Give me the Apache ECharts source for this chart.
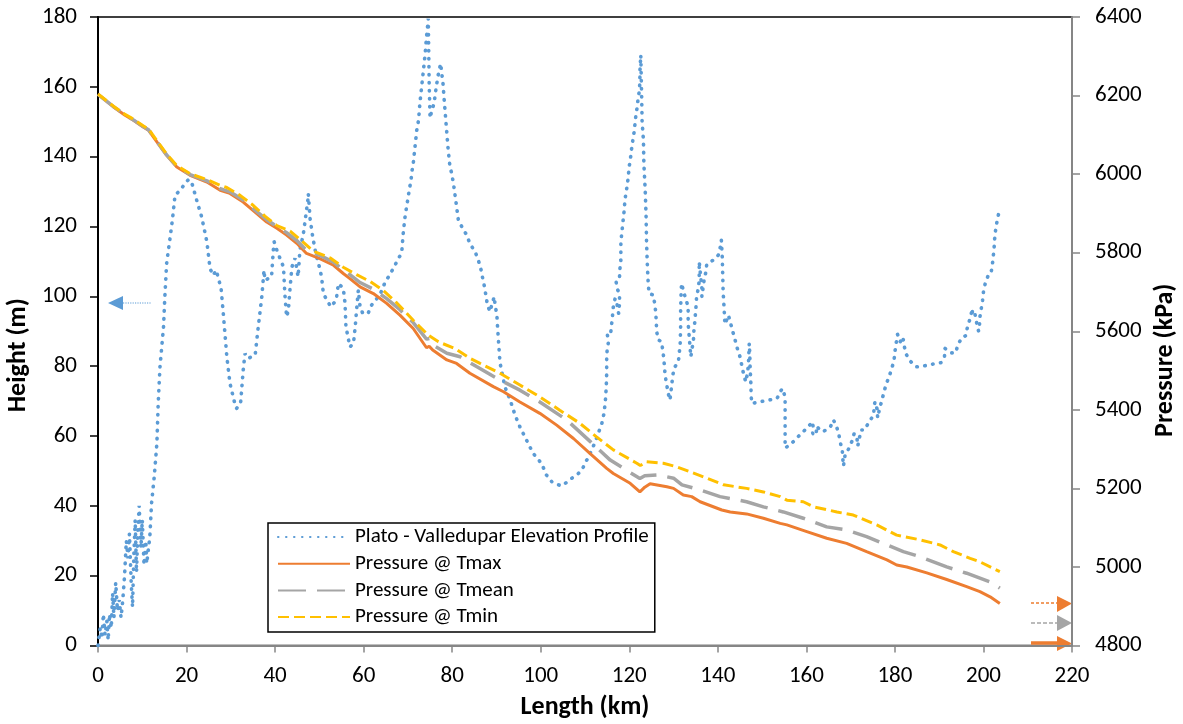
<!DOCTYPE html>
<html>
<head>
<meta charset="utf-8">
<script src="https://cdn.jsdelivr.net/npm/echarts@6/dist/echarts.min.js"></script>
<style>
html,body{margin:0;padding:0;background:#fff;}
#chart{width:1183px;height:724px;}
</style>
</head>
<body>
<div id="chart"></div>
<script>
// ---- Data ----
const seriesNames = ['Plato - Valledupar Elevation Profile','Pressure @ Tmax','Pressure @ Tmean','Pressure @ Tmin'];
const xTicks = [0,20,40,60,80,100,120,140,160,180,200,220];
const heightTicks = [0,20,40,60,80,100,120,140,160,180];
const pressureTicks = [4800,5000,5200,5400,5600,5800,6000,6200,6400];

// Elevation profile [km, m]
const elevation = [
[0,0],[0.5,5],[0.9,2],[1.2,9],[1.6,3],[2.0,7],[2.3,1.5],[2.6,9],[3.0,5],[3.3,15],[3.6,8],[4.0,18],[4.4,10],[4.8,13],[5.2,8],[5.6,13],[6.0,20],[6.4,30],[6.8,25],[7.1,32],[7.5,18],[7.8,11],[8.1,26],[8.4,36],[8.7,21],[9.0,33],[9.3,40],[9.7,28],[10.0,36],[10.4,23],[10.8,30],[11.0,23.5],
[11.7,31],[12.1,40.8],[12.7,48.3],[13.3,57.9],[13.6,69.3],[14.0,79.8],[14.8,91.3],[15.1,99.9],[15.5,109.4],[16.3,117],[16.8,121.8],[17.4,129],[18.7,130.5],[19.7,132.5],[20.5,133.5],[21.3,132],[22.3,127.5],[23.4,122.8],[24.6,115.6],[25.3,108],[26.0,106],[26.7,107.5],[27.8,102.3],[28.3,95.1],[29.1,82.7],[29.8,75.1],[30.9,69.3],[31.3,67.9],[32.2,69.3],[32.8,78.9],[33.2,83.6],[33.9,82.2],[35.5,83.2],[36.2,91.3],[37.0,99.9],[37.5,107.5],[37.7,104.6],[39.2,105.6],[39.6,113.2],[39.8,115.6],[40.4,113.2],[41.1,110.9],[41.9,108.4],[42.2,100.8],[42.6,94.1],[43.0,96],[43.4,102.7],[43.8,108.4],[44.5,110.9],[45.2,105.6],[45.6,113.2],[46.4,118],[46.9,122.8],[47.4,127.5],[47.5,129.4],[47.9,122.3],[48.5,117],[49.2,112.3],[50.0,108.4],[50.5,105.6],[50.9,100.8],[51.7,98.9],[52.6,97],[53.8,98.9],[54.3,103.7],[55.4,102.3],[55.8,98],[56.0,91.3],[56.6,87.5],[56.9,85.5],[57.7,86.5],[58.1,91.3],[58.4,96],[58.8,101.8],[59.2,97],[59.8,95.1],[61.0,95.1],[61.8,97.5],[63.7,100.5],[64.8,103.9],[65.8,106],[66.7,108],[67.6,110.2],[68.6,112.5],[68.9,117.5],[69.3,122.3],[69.7,125.6],[70.3,130.4],[70.7,133.3],[70.9,135.7],[71.2,138],[71.6,142.8],[72.0,147.6],[72.4,150.4],[72.7,155.2],[73.1,160],[73.5,164.7],[73.9,169.5],[74.2,174.3],[74.5,178.1],[74.6,179.5],[74.7,170.5],[74.8,161],[74.9,156.2],[75.0,151],[75.4,153.3],[75.9,155.2],[76.4,160],[76.9,163.8],[77.4,166.7],[77.6,164.3],[77.9,161.4],[78.2,156.2],[78.5,151.4],[78.8,146.6],[79.1,141.9],[79.5,137.1],[79.9,135.2],[80.4,131.3],[80.9,126.6],[81.4,121.8],[82.4,119.4],[83.3,117.5],[84.0,115.1],[85.2,112.7],[85.9,110.4],[86.5,107.7],[86.9,105.1],[87.3,102.7],[87.6,100.4],[87.9,98],[88.5,95.6],[89.5,99.9],[89.7,97.5],[90.1,94.6],[90.2,92.2],[90.4,88.4],[90.6,84.6],[90.8,81],[91.9,74.1],[93.1,70.3],[94.2,66],[95.3,62.6],[96.8,58.8],[98.3,55],[99.6,53.1],[100.5,51.2],[101.3,48.8],[102.5,46.9],[103.6,46.2],[104.7,45.7],[105.5,46.4],[107.0,47.9],[108.1,48.8],[109.3,50.2],[110.0,52.2],[110.8,54],[111.5,56],[112.3,58.3],[113.0,60.8],[113.8,63.6],[114.3,66.5],[114.6,70],[114.8,74],[114.9,78],[114.9,82.2],[115.0,84.6],[115.3,87],[115.0,89.4],[115.8,89.4],[116.0,91.8],[116.2,94.3],[116.4,97],[116.8,99.4],[117.2,98],[117.6,95.1],[117.8,98],[117.8,100.8],[117.2,102.3],[117.0,104.6],[117.8,105.6],[117.9,108],[118.1,110.4],[118.1,113.2],[118.1,115.6],[118.3,118],[118.5,120.4],[118.7,122.8],[118.9,125.2],[119.0,127.5],[119.3,129.9],[119.6,132.3],[119.8,134.7],[120.0,137.3],[120.3,139.8],[120.5,142],[120.8,144.7],[121.1,147.1],[121.3,149.5],[121.5,151.9],[121.8,154.3],[122.0,156.7],[122.3,159],[122.4,161.9],[122.4,164.3],[122.5,166.7],[122.6,169.1],[122.8,157.1],[122.9,150],[123.2,144.7],[123.3,137.9],[123.6,130.4],[123.8,122.8],[123.9,115.6],[124.1,108.4],[124.3,103.2],[124.5,100.8],[125.4,100.4],[125.8,97.5],[126.0,95.1],[126.2,89.8],[126.6,87.5],[127.3,87],[127.8,82.2],[128.1,77.4],[128.4,75.1],[128.8,72.2],[129.2,70.3],[129.8,77],[130.1,79.4],[131.1,81.3],[131.5,86.5],[131.6,91.3],[131.6,96],[131.7,100.8],[131.8,103.7],[132.6,99.9],[133.3,97],[133.3,92.2],[133.6,87.5],[133.9,82.7],[134.5,87.5],[134.6,90.3],[134.8,92.7],[135.1,97.5],[135.2,99.9],[135.6,102.3],[135.8,104.6],[135.8,109.9],[136.4,102.3],[136.4,99.9],[136.9,104.6],[137.3,107],[137.5,109.2],[139.0,110.4],[140.1,111.8],[140.5,113.7],[140.8,116.1],[141.0,111.3],[141.1,106.6],[141.2,101.3],[141.4,97],[141.6,92],[142.4,94.6],[142.9,92.2],[143.4,89.8],[143.9,87.5],[144.4,85.1],[145.0,82.7],[145.4,80.3],[145.8,77.9],[146.3,75.5],[146.7,77.9],[146.9,80.3],[147.0,83.2],[147.1,86.5],[147.2,84.1],[147.3,79.4],[147.4,76.8],[147.5,74.1],[147.5,71.7],[147.7,69.3],[149.5,69.8],[151.6,70.3],[153.4,70.8],[154.1,72.7],[154.6,73.6],[155.2,71.2],[155.2,68.9],[155.2,66.5],[155.2,63.9],[155.2,61.5],[155.2,59],[155.2,56.6],[156.3,57.4],[157.6,59.1],[159.0,60.9],[160.4,62.6],[161.4,64.1],[161.6,61.7],[161.4,60.7],[162.3,60.3],[162.2,62.8],[163.7,61.2],[165.4,62.5],[166.1,64.6],[166.7,63.1],[167.2,61.2],[167.6,58.8],[167.8,57.4],[168.1,56.2],[168.2,53.9],[168.4,51.4],[168.5,52.6],[168.8,55],[169.1,55],[169.5,56.2],[170.3,58.5],[170.8,60.7],[171.4,59.8],[171.6,57.1],[172.0,59.5],[172.3,61.7],[173.1,61.7],[174.1,63.9],[175.2,66],[175.3,68.4],[175.5,69.8],[176.0,67.6],[176.1,65.2],[176.5,67.6],[177.0,70],[177.5,72.4],[178.0,74.8],[178.7,77],[179.3,79.4],[179.8,81.7],[180.0,84.1],[180.3,86.7],[180.6,89.1],[181.2,87],[181.8,88.4],[182.1,85.8],[182.5,83.5],[183.5,81.4],[184.8,79.8],[186.7,80.1],[188.6,80.6],[190.4,81],[191.2,82.7],[191.3,85.1],[192.8,83.8],[193.7,83.8],[194.2,86],[195.1,88.2],[196.0,88.7],[196.4,91.3],[197.0,93.7],[197.5,96.5],[197.5,94.3],[198.1,94.8],[198.5,92.2],[198.9,90],[199.1,91.5],[199.2,94.1],[199.5,96.4],[199.8,98.9],[200.0,101.3],[200.4,103.7],[201.1,106.1],[201.7,106.6],[202.0,108.9],[202.2,111.3],[202.4,113.7],[202.5,116.1],[202.7,118.6],[203.0,121],[203.4,123.5]
];

// Pressure @ Tmax [km, kPa]
const pTmax = [
[0,6203],[3.5,6171],[6.1,6150],[8.0,6137],[10.2,6120],[11.4,6112],[13.3,6082],[15.5,6048],[17.8,6018],[20.8,5997],[24.6,5980],[27.6,5959],[29.8,5951],[32.8,5929],[35.8,5900],[38.1,5878],[40.4,5862],[42.6,5845],[44.9,5824],[47.1,5798],[50.1,5785],[53.2,5768],[55.4,5747],[56.9,5734],[59.2,5713],[62.2,5696],[65.2,5671],[68.2,5641],[71.2,5607],[74.2,5558],[74.8,5562],[75.6,5552],[78.8,5527],[81.0,5518],[84.0,5493],[89.3,5459],[91.6,5446],[95.3,5420],[99.8,5391],[103.6,5361],[107.4,5327],[111.1,5289],[114.9,5251],[116.4,5238],[120.2,5213],[122.4,5191],[123.5,5203],[124.7,5212],[128.5,5204],[130.0,5200],[132.2,5183],[134.1,5179],[136.0,5166],[140.9,5145],[142.8,5140],[146.5,5135],[150.3,5124],[154.1,5111],[155.6,5107],[160.1,5090],[164.6,5073],[169.1,5060],[173.6,5039],[178.2,5018],[180.4,5005],[182.7,5000],[187.2,4985],[191.7,4968],[196.2,4950],[199.2,4937],[201.5,4924],[203.7,4907]
];

// Pressure @ Tmean [km, kPa]
const pTmean = [
[0,6203],[3.5,6172],[6.1,6151],[8.0,6138],[10.2,6121],[11.4,6113],[13.3,6083],[15.5,6049],[17.8,6020],[20.8,5999],[24.6,5983],[27.6,5963],[29.8,5955],[32.8,5934],[35.8,5905],[38.1,5884],[40.4,5867],[42.6,5851],[44.9,5831],[47.1,5806],[50.1,5793],[53.2,5776],[55.4,5756],[56.9,5744],[59.2,5724],[62.2,5707],[65.2,5683],[68.2,5655],[71.2,5622],[74.2,5580],[75.0,5582],[76.1,5562],[78.8,5544],[81.8,5535],[85.5,5510],[90.1,5480],[95.3,5450],[99.8,5420],[105.9,5374],[111.2,5319],[115.7,5272],[122.4,5225],[123.5,5232],[126.5,5234],[130.0,5226],[131.9,5209],[136.0,5196],[140.5,5179],[146.5,5166],[150.3,5153],[154.8,5140],[159.3,5124],[164.6,5102],[169.1,5094],[173.6,5077],[178.2,5056],[181.9,5039],[185.7,5026],[191.7,5000],[196.2,4984],[201.5,4962],[203.7,4946]
];

// Pressure @ Tmin [km, kPa]
const pTmin = [
[0,6204],[3.5,6173],[6.1,6152],[8.0,6140],[10.2,6123],[11.4,6115],[13.3,6085],[15.5,6051],[17.8,6022],[20.8,6001],[25.3,5983],[27.5,5972],[29.1,5966],[32.1,5946],[35.1,5920],[37.7,5893],[40.4,5869],[43.4,5855],[46.4,5826],[48.6,5804],[52.4,5787],[55.4,5763],[58.4,5744],[61.4,5727],[64.4,5704],[67.5,5672],[69.7,5646],[71.2,5628],[74.6,5590],[76.9,5573],[80.6,5556],[84.0,5531],[86.3,5518],[90.8,5493],[95.3,5463],[99.8,5433],[104.3,5399],[108.8,5366],[112.6,5331],[116.4,5298],[121.7,5264],[122.5,5258],[123.9,5268],[127.7,5264],[130.7,5255],[133.8,5242],[137.5,5226],[141.3,5209],[146.5,5200],[150.3,5191],[154.1,5179],[155.6,5170],[159.3,5166],[161.6,5153],[166.9,5140],[170.6,5132],[175.9,5107],[180.4,5081],[185.7,5069],[190.2,5056],[193.2,5039],[197.0,5022],[199.2,5013],[203.7,4988]
];

// ---- Chart ----
const FONT = 'Carlito, Lato, sans-serif';
const BLUE = '#5B9BD5', ORANGE = '#ED7D31', GRAY = '#A5A5A5', YELLOW = '#FFC000', AXG = '#868686';
const plain = v => String(v);

const chart = echarts.init(document.getElementById('chart'), null, {renderer: 'canvas'});
chart.setOption({
  animation: false,
  backgroundColor: '#fff',
  textStyle: {fontFamily: FONT},
  grid: {left: 98, right: 111, top: 17, bottom: 78.5, show: true, borderColor: '#000', borderWidth: 1.5, backgroundColor: 'transparent', containLabel: false, outerBoundsMode: 'none'},
  legend: {
    orient: 'vertical', left: 268, top: 523,
    data: seriesNames,
    itemWidth: 72, itemHeight: 14, itemGap: 4.7,
    padding: [3, 6, 4, 9],
    itemStyle: {opacity: 0},
    borderColor: '#000', borderWidth: 1.5, backgroundColor: '#fff',
    textStyle: {fontSize: 21, color: '#000', fontFamily: FONT, lineHeight: 22}
  },
  xAxis: {
    type: 'value', min: 0, max: 220, interval: 20,
    name: 'Length (km)', nameLocation: 'middle', nameGap: 49,
    nameTextStyle: {fontSize: 26, fontWeight: 'bold', color: '#000', fontFamily: FONT},
    axisLine: {show: true, onZero: false, lineStyle: {color: AXG, width: 2}},
    axisTick: {show: true, length: 7, lineStyle: {color: AXG, width: 1.5}},
    axisLabel: {fontSize: 23, color: '#000', margin: 19, fontFamily: FONT, formatter: plain},
    splitLine: {show: false}
  },
  yAxis: [{
    type: 'value', min: 0, max: 180, interval: 20, position: 'left',
    name: 'Height (m)', nameLocation: 'middle', nameGap: 55, nameRotate: 90,
    nameTextStyle: {fontSize: 26, fontWeight: 'bold', color: '#000', fontFamily: FONT, padding: [0, 48, 0, 0]},
    axisLine: {show: true, onZero: false, lineStyle: {color: '#000', width: 2}},
    axisTick: {show: true, length: 8, lineStyle: {color: '#000', width: 1.5}},
    axisLabel: {fontSize: 23, color: '#000', margin: 21, fontFamily: FONT, formatter: plain},
    splitLine: {show: false}
  }, {
    type: 'value', min: 4800, max: 6400, interval: 200, position: 'right',
    name: 'Pressure (kPa)', nameLocation: 'middle', nameGap: 78, nameRotate: 90,
    nameTextStyle: {fontSize: 26, fontWeight: 'bold', color: '#000', fontFamily: FONT, padding: [0, 58, 0, 0]},
    axisLine: {show: true, onZero: false, lineStyle: {color: AXG, width: 2}},
    axisTick: {show: true, length: 8, lineStyle: {color: AXG, width: 1.5}},
    axisLabel: {fontSize: 23, color: '#000', margin: 23, fontFamily: FONT, formatter: plain},
    splitLine: {show: false}
  }],
  series: [{
    name: seriesNames[0], type: 'line', yAxisIndex: 0, data: elevation,
    symbol: 'none', smooth: false, color: BLUE, z: 2,
    lineStyle: {color: BLUE, width: 3.6, type: [0.5, 7.5], cap: 'round'}
  }, {
    name: seriesNames[1], type: 'line', yAxisIndex: 1, data: pTmax,
    symbol: 'none', color: ORANGE, z: 3,
    lineStyle: {color: ORANGE, width: 3}
  }, {
    name: seriesNames[2], type: 'line', yAxisIndex: 1, data: pTmean,
    symbol: 'none', color: GRAY, z: 4,
    lineStyle: {color: GRAY, width: 3.5, type: [28, 11]}
  }, {
    name: seriesNames[3], type: 'line', yAxisIndex: 1, data: pTmin,
    symbol: 'none', color: YELLOW, z: 5,
    lineStyle: {color: YELLOW, width: 3, type: [11, 5]}
  }],
  graphic: [
    {type: 'line', shape: {x1: 123, y1: 303, x2: 151, y2: 303}, style: {stroke: BLUE, lineWidth: 1.2, lineDash: [1.2, 1.2]}},
    {type: 'polygon', shape: {points: [[108, 303], [123, 296], [123, 310]]}, style: {fill: BLUE}},
    {type: 'line', shape: {x1: 1031, y1: 603, x2: 1058, y2: 603}, style: {stroke: ORANGE, lineWidth: 1.3, lineDash: [3, 2]}},
    {type: 'polygon', shape: {points: [[1057, 596], [1072, 603.5], [1057, 612]]}, style: {fill: ORANGE}},
    {type: 'line', shape: {x1: 1031, y1: 623, x2: 1058, y2: 623}, style: {stroke: GRAY, lineWidth: 1.3, lineDash: [4, 2]}},
    {type: 'polygon', shape: {points: [[1057, 615], [1072, 623], [1057, 631]]}, style: {fill: GRAY}},
    {type: 'line', shape: {x1: 1031, y1: 643, x2: 1058, y2: 643}, style: {stroke: ORANGE, lineWidth: 3.5}},
    {type: 'polygon', shape: {points: [[1057, 636], [1072, 643.5], [1057, 651]]}, style: {fill: ORANGE}}
  ]
});
</script>
</body>
</html>
